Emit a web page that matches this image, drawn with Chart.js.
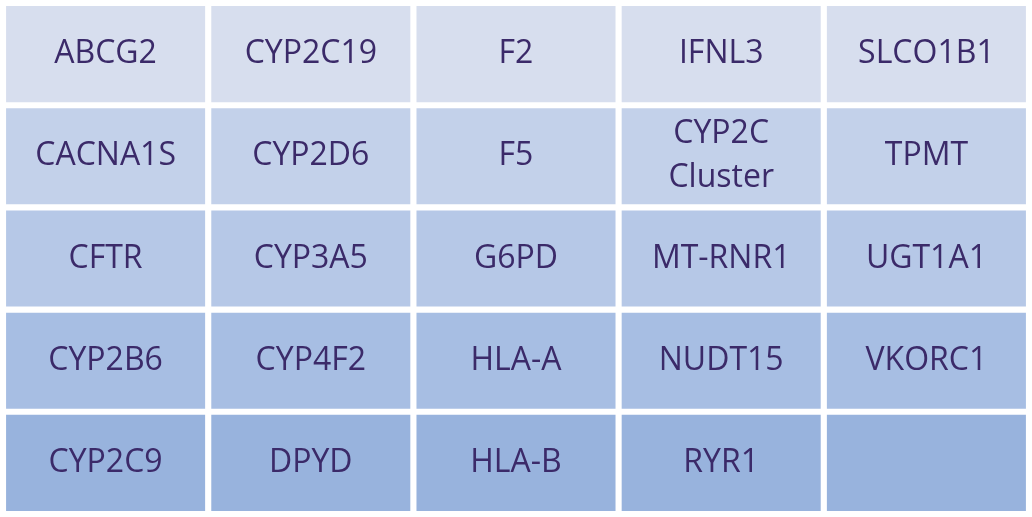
<!DOCTYPE html>
<html><head><meta charset="utf-8">
<script src="https://cdn.jsdelivr.net/npm/chart.js@4"></script>
<style>html,body{margin:0;padding:0;background:#fff}#w{width:1032px;height:517px}</style>
</head><body><div id="w"><canvas id="c"></canvas></div>
<script>
const columns = ["c1","c2","c3","c4","c5"];
const row1 = ["ABCG2","CYP2C19","F2","IFNL3","SLCO1B1"];
const row2 = ["CACNA1S","CYP2D6","F5","CYP2C\nCluster","TPMT"];
const row3 = ["CFTR","CYP3A5","G6PD","MT-RNR1","UGT1A1"];
const row4 = ["CYP2B6","CYP4F2","HLA-A","NUDT15","VKORC1"];
const row5 = ["CYP2C9","DPYD","HLA-B","RYR1",""];
const rows = [row1,row2,row3,row4,row5];
const rowColors = ["#d7deee","#c3d1ea","#b6c8e7","#a7bee3","#98b3dd"];
const datasets = rows.map((r,i)=>({
  data: r.map(()=>[i+0.03,i+0.97]),
  labelsText: r,
  backgroundColor: rowColors[i],
  grouped:false, barPercentage:0.97, categoryPercentage:1, borderWidth:0
}));
const labelPlugin = {id:'lbl', afterDatasetsDraw(ch){
  const ctx=ch.ctx; ctx.save();
  ctx.fillStyle="#3b2a69"; ctx.font="32px 'Open Sans', sans-serif";
  ctx.textAlign="center"; ctx.textBaseline="middle";
  ch.data.datasets.forEach((ds,di)=>{
    ch.getDatasetMeta(di).data.forEach((el,j)=>{
      const t=ds.labelsText[j]; if(!t) return;
      const lines=t.split("\n"); const cy=(el.y+el.base)/2;
      lines.forEach((l,k)=>ctx.fillText(l, el.x, cy+(k-(lines.length-1)/2)*44));
    });
  });
  ctx.restore();
}};
new Chart(document.getElementById('c'),{
  type:'bar', data:{labels:columns, datasets},
  options:{responsive:true, maintainAspectRatio:false, animation:false,
    layout:{padding:3},
    plugins:{legend:{display:false}, tooltip:{enabled:false}},
    scales:{x:{display:false}, y:{display:false, min:0, max:5, reverse:true}}},
  plugins:[labelPlugin]
});
</script></body></html>
